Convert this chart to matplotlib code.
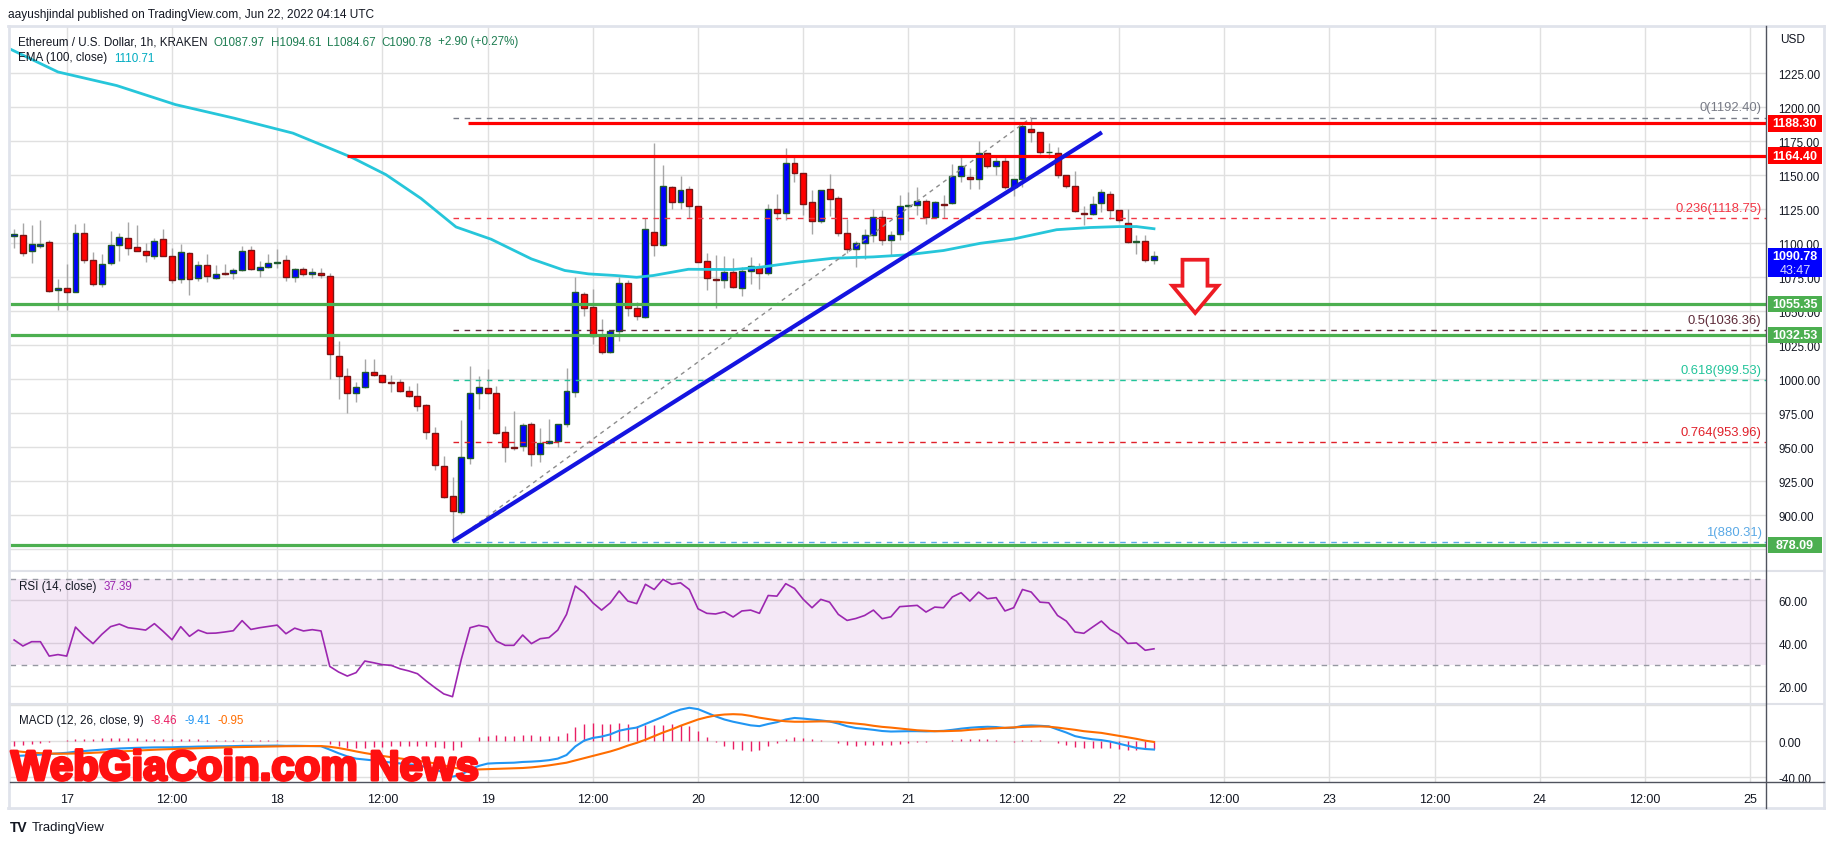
import numpy as np
import pandas as pd
import matplotlib
matplotlib.use('Agg')
import matplotlib.pyplot as plt
import matplotlib.transforms as mtransforms
import matplotlib.patheffects as pe
from matplotlib.patches import Rectangle, Polygon
from matplotlib.lines import Line2D

plt.rcParams['font.family'] = ['Liberation Sans', 'DejaVu Sans']

# ---- data (ETH/USD 1h, Kraken) ----
times = pd.date_range('2022-06-16 18:00', periods=131, freq='h')

opens = [1105.4, 1106.1, 1094.4, 1098.0, 1101.0, 1065.7, 1067.2, 1064.2, 1107.6, 1087.8,
         1070.1, 1085.6, 1098.8, 1103.9, 1097.3, 1094.4, 1090.7, 1103.2, 1090.7, 1073.8,
         1092.9, 1074.5, 1084.1, 1074.5, 1078.2, 1078.2, 1080.4, 1095.1, 1080.4, 1082.6,
         1085.6, 1087.8, 1075.3, 1081.1, 1077.5, 1078.2, 1076.0, 1016.9, 1002.2, 989.7,
         994.2, 1005.2, 1003.0, 997.8, 997.8, 991.2, 987.5, 980.9, 960.3, 936.1,
         914.0, 902.3, 942.0, 989.7, 993.4, 989.7, 961.1, 950.3, 950.8, 966.9,
         944.9, 953.0, 954.5, 966.9, 990.5, 1062.5, 1053.0, 1031.6, 1019.9, 1035.3,
         1070.6, 1052.2, 1045.7, 1108.1, 1098.6, 1141.2, 1130.2, 1139.7, 1127.2, 1086.8,
         1073.6, 1072.8, 1078.7, 1067.0, 1079.5, 1082.4, 1078.0, 1125.0, 1122.1, 1158.8,
         1151.5, 1130.2, 1116.2, 1139.7, 1133.1, 1107.4, 1095.6, 1100.0, 1105.9, 1119.1,
         1102.2, 1106.7, 1127.2, 1128.0, 1130.9, 1119.1, 1129.0, 1129.4, 1149.3, 1148.5,
         1147.1, 1166.2, 1156.6, 1160.3, 1141.2, 1147.1, 1183.8, 1181.6, 1167.0, 1166.2,
         1150.0, 1141.9, 1122.1, 1121.4, 1129.4, 1136.0, 1124.3, 1114.7, 1100.8, 1101.5,
         1087.97]
highs = [1110.8, 1115.2, 1113.7, 1117.4, 1102.7, 1074.0, 1085.0, 1114.5, 1115.2, 1093.9,
         1092.4, 1109.3, 1107.8, 1115.9, 1113.7, 1100.5, 1103.9, 1110.8, 1096.8, 1099.8,
         1093.5, 1087.3, 1092.2, 1084.1, 1084.8, 1081.9, 1098.3, 1098.3, 1087.0, 1092.4,
         1096.0, 1091.4, 1082.0, 1082.6, 1081.9, 1081.9, 1078.2, 1028.2, 1008.4, 997.8,
         1015.0, 1015.0, 1003.5, 1003.2, 1000.3, 994.9, 997.1, 981.5, 964.8, 943.4,
         928.0, 970.1, 1010.1, 1002.7, 1007.9, 994.9, 966.0, 976.5, 967.7, 968.4,
         964.0, 970.6, 967.0, 1008.4, 1075.0, 1064.0, 1066.2, 1044.1, 1036.0, 1075.0,
         1073.3, 1056.6, 1118.4, 1174.0, 1157.4, 1142.0, 1149.3, 1141.9, 1127.5, 1092.7,
         1091.5, 1090.7, 1089.0, 1082.4, 1089.7, 1085.3, 1128.7, 1136.0, 1169.9, 1163.3,
         1152.0, 1139.0, 1139.5, 1150.8, 1134.6, 1117.7, 1101.5, 1110.3, 1125.0, 1124.3,
         1108.9, 1135.3, 1137.5, 1141.2, 1132.4, 1131.0, 1135.3, 1158.1, 1163.3, 1155.2,
         1175.0, 1166.5, 1163.3, 1164.0, 1147.5, 1189.0, 1192.4, 1182.0, 1173.5, 1170.6,
         1150.5, 1153.0, 1127.2, 1134.6, 1139.7, 1138.3, 1124.5, 1125.0, 1105.9, 1105.9,
         1094.61]
lows = [1096.6, 1090.5, 1085.6, 1096.8, 1064.0, 1050.8, 1050.8, 1064.0, 1085.3, 1068.9,
        1067.7, 1083.8, 1086.8, 1091.2, 1094.0, 1086.0, 1088.5, 1090.5, 1070.6, 1070.6,
        1061.8, 1072.1, 1071.3, 1073.5, 1076.5, 1073.5, 1079.5, 1080.5, 1075.0, 1081.9,
        1081.9, 1072.1, 1071.3, 1076.0, 1074.3, 1074.3, 1000.5, 985.8, 975.5, 983.6,
        993.5, 1002.7, 997.0, 991.0, 991.0, 987.0, 976.3, 956.4, 933.6, 913.0,
        880.3, 900.8, 937.6, 978.5, 989.0, 960.0, 939.0, 947.8, 947.1, 936.1,
        939.0, 952.5, 950.0, 964.8, 986.8, 1046.3, 1025.8, 1018.4, 1019.0, 1028.0,
        1046.3, 1043.4, 1045.0, 1090.5, 1097.8, 1125.0, 1125.0, 1118.4, 1086.0, 1065.3,
        1052.3, 1067.0, 1067.0, 1061.1, 1069.9, 1066.2, 1077.0, 1116.9, 1116.9, 1144.9,
        1120.6, 1106.7, 1115.0, 1119.9, 1105.2, 1092.7, 1082.4, 1088.3, 1100.8, 1098.6,
        1090.5, 1102.2, 1108.9, 1120.6, 1114.0, 1118.4, 1118.4, 1129.0, 1144.9, 1139.7,
        1139.7, 1155.2, 1150.0, 1139.7, 1134.6, 1141.2, 1174.3, 1165.5, 1162.5, 1147.8,
        1141.0, 1122.8, 1113.3, 1121.0, 1122.8, 1117.7, 1116.0, 1100.0, 1092.0, 1086.1,
        1084.67]
closes = [1106.9, 1092.9, 1099.5, 1099.5, 1065.0, 1067.2, 1064.2, 1107.6, 1087.8, 1070.1,
          1084.8, 1098.8, 1104.7, 1096.6, 1094.4, 1091.4, 1101.7, 1090.7, 1073.0, 1093.6,
          1073.8, 1084.1, 1076.0, 1077.5, 1077.5, 1080.4, 1094.4, 1081.1, 1082.6, 1085.6,
          1086.3, 1075.3, 1081.1, 1077.5, 1079.0, 1076.7, 1018.7, 1002.2, 989.7, 994.2,
          1005.2, 1003.0, 997.8, 997.6, 991.2, 987.5, 980.0, 961.1, 936.8, 913.1,
          903.0, 942.7, 989.7, 994.2, 989.7, 960.3, 950.0, 949.8, 966.2, 944.9,
          953.0, 954.5, 966.9, 991.2, 1064.0, 1052.2, 1031.6, 1019.9, 1035.3, 1070.6,
          1052.2, 1046.3, 1110.3, 1098.6, 1141.9, 1130.2, 1139.0, 1127.2, 1086.1, 1074.3,
          1072.8, 1078.7, 1067.7, 1079.5, 1083.1, 1078.0, 1125.0, 1122.1, 1158.8, 1151.5,
          1128.7, 1116.2, 1139.0, 1132.4, 1107.4, 1095.6, 1100.0, 1105.9, 1119.1, 1102.2,
          1105.9, 1127.2, 1128.0, 1130.9, 1119.1, 1130.2, 1128.5, 1149.3, 1156.6, 1147.1,
          1166.2, 1156.6, 1160.3, 1141.2, 1147.1, 1186.0, 1181.6, 1166.9, 1167.4, 1150.0,
          1141.9, 1123.6, 1121.4, 1128.7, 1137.5, 1124.3, 1116.9, 1100.8, 1101.5, 1087.5,
          1090.78]

# EMA(100) read at a few points (hours after Jun 17 00:00)
ema_hours = [-6.5, -1, 5.7, 12.4, 19.1, 25.8, 32.4, 36.4, 40.4, 44.4, 48.4, 53.0, 56.8,
             59.5, 62.6, 65.0, 66.9, 70.9, 76.0, 79.1, 83.3, 87.4, 92.0, 95.8, 100.0,
             104.2, 108.0, 112.9, 116.7, 120.0, 122.0, 124.0]
ema_values = [1243, 1226, 1216, 1202, 1192, 1181, 1163.5, 1150.5, 1133, 1112, 1103, 1088.5,
              1080, 1077.5, 1076.3, 1075, 1076.3, 1080.9, 1080.7, 1082.4, 1086.1, 1089,
              1090, 1091.5, 1094.7, 1100, 1103.2, 1110, 1111.6, 1112.3, 1112.3, 1110.7]

rsi = [41.5, 38.7, 40.7, 40.7, 34.0, 34.7, 34.0, 47.5, 43.3, 39.8,
       44.1, 47.7, 48.9, 47.2, 46.7, 46.1, 49.1, 45.5, 41.6, 47.7,
       43.2, 46.1, 44.6, 44.7, 45.2, 45.8, 50.5, 46.4, 47.2, 47.8,
       48.4, 44.4, 47.0, 45.7, 46.3, 45.7, 29.2, 26.6, 24.7, 26.3,
       31.7, 30.9, 30.0, 29.7, 28.1, 27.1, 25.8, 22.4, 19.3, 16.4,
       15.1, 32.5, 47.2, 48.3, 47.5, 41.0, 39.0, 39.0, 43.8, 39.8,
       42.1, 42.6, 46.1, 53.4, 66.6, 63.5, 58.8, 55.4, 58.8, 64.3,
       59.6, 58.4, 67.4, 65.0, 69.7, 67.4, 68.1, 65.0, 56.0, 53.9,
       53.6, 54.6, 52.2, 55.0, 55.4, 53.9, 62.2, 61.9, 67.7, 65.5,
       60.4, 56.5, 60.4, 59.1, 53.4, 50.6, 51.5, 52.9, 55.4, 51.4,
       52.3, 57.0, 57.3, 57.6, 54.5, 56.8, 56.5, 61.5, 63.5, 59.6,
       63.8, 60.7, 61.2, 55.0, 56.5, 65.0, 63.8, 59.1, 58.8, 52.9,
       50.3, 45.2, 44.6, 47.5, 50.3, 46.4, 44.1, 39.9, 40.1, 36.7,
       37.39]

macd = [-16.6, -16.2, -15.7, -15.0, -14.4, -13.7, -13.0, -11.8, -11.0, -10.2,
        -9.5, -8.8, -8.2, -7.8, -7.5, -7.2, -7.0, -6.9, -6.9, -6.5,
        -6.4, -6.1, -6.0, -5.9, -5.8, -5.6, -5.3, -5.3, -5.2, -5.1,
        -5.0, -5.3, -5.2, -5.4, -5.5, -5.7, -9.5, -13.5, -17.0, -19.5,
        -20.5, -21.5, -22.8, -23.8, -24.8, -25.8, -26.8, -28.8, -31.5, -35.0,
        -39.5, -37.5, -31.5, -27.5, -25.0, -24.5, -24.3, -24.0, -23.2, -22.8,
        -22.2, -21.2, -19.5, -15.5, -6.0, 0.5, 3.5, 5.0, 7.5, 11.5,
        13.5, 15.0, 19.0, 23.0, 27.0, 31.5, 35.0, 37.0, 35.5, 31.5,
        27.5, 24.0, 21.5, 19.5, 17.5, 16.6, 19.0, 21.0, 24.0, 25.7,
        25.0, 24.0, 23.0, 21.8, 19.5, 16.5, 14.5, 13.6, 12.5, 11.2,
        10.6, 10.8, 11.0, 11.0, 10.8, 11.0, 11.4, 12.5, 13.8, 14.8,
        15.5, 15.9, 15.6, 14.6, 14.8, 17.0, 17.4, 17.0, 16.4, 13.0,
        9.5, 5.5, 3.5, 2.0, 1.1, -0.5, -2.8, -5.2, -7.6, -8.8,
        -9.41]
signal = [-11.0, -12.0, -12.8, -13.4, -13.8, -14.0, -14.0, -13.8, -13.5, -13.0,
          -12.5, -12.0, -11.5, -11.0, -10.5, -10.0, -9.6, -9.2, -8.9, -8.5,
          -8.2, -7.9, -7.6, -7.3, -7.0, -6.8, -6.6, -6.4, -6.2, -6.0,
          -5.8, -5.7, -5.6, -5.5, -5.5, -5.5, -6.3, -7.7, -9.5, -11.5,
          -13.3, -14.9, -16.5, -17.9, -19.3, -20.6, -21.8, -23.2, -24.8, -26.8,
          -29.3, -31.0, -31.5, -31.5, -31.2, -30.8, -30.5, -30.2, -29.9, -29.2,
          -28.2, -27.0, -25.5, -24.0, -21.5, -19.0, -16.5, -14.0, -11.5, -8.5,
          -5.0, -2.0, 1.5, 5.5, 9.5, 13.0, 17.0, 20.5, 24.0, 26.5,
          28.5, 29.5, 29.9, 29.5, 28.0, 26.0, 24.5, 23.0, 22.0, 21.5,
          21.5, 21.7, 21.9, 21.8, 21.5, 20.4, 19.5, 18.5, 17.0, 15.8,
          15.0, 14.0, 13.0, 12.0, 11.5, 11.0, 11.0, 11.3, 11.6, 12.5,
          13.2, 13.8, 14.3, 14.8, 15.3, 15.7, 16.0, 16.3, 16.0, 15.0,
          13.8, 12.5, 11.0, 10.0, 9.1, 7.5, 6.0, 4.2, 2.5, 0.5,
          -0.95]

# drawings on the chart
fib_labels = ['0', '0.236', '0.5', '0.618', '0.764', '1']
fib_prices = [1192.40, 1118.75, 1036.36, 999.53, 953.96, 880.31]
fib_colors = ['#787b86', '#f23645', '#5d2a38', '#22c49a', '#e0202a', '#5aa9e6']
support_levels = [1055.35, 1032.53, 878.09]
resistance_levels = [1188.30, 1164.40]
resistance_start = [45.8, 32.0]
trend_hours = [44, 118.06]
trend_prices = [880.7, 1181.6]
fib_trend_hours = [44, 110]
fib_trend_prices = [880.31, 1192.40]
arrow_hours = [127.25, 130.1, 130.1, 131.3, 128.7, 126.1, 127.25]
arrow_prices = [1087.9, 1087.9, 1068.8, 1068.8, 1048.75, 1068.8, 1068.8]

hours = ((times - pd.Timestamp('2022-06-17')) / pd.Timedelta('1h')).values
o = np.array(opens); h = np.array(highs); l = np.array(lows); c = np.array(closes)
hist = np.array(macd) - np.array(signal)

W, H = 1834, 845
X0, X1 = -6.47, 193.8


def box(x0, y0, x1, y1):
    return [x0 / W, 1 - y1 / H, (x1 - x0) / W, (y1 - y0) / H]


fig = plt.figure(figsize=(W / 100, H / 100), dpi=100)
fig.patch.set_facecolor('white')

ax_p = fig.add_axes(box(10, 27, 1766, 572))
ax_r = fig.add_axes(box(10, 572, 1766, 705))
ax_m = fig.add_axes(box(10, 705, 1766, 782.5))

xt = np.arange(0, 193, 12)
xt_labels = [str(17 + t // 24) if t % 24 == 0 else '12:00' for t in xt]
grid_c = '#e0e0e0'
for ax in (ax_p, ax_r, ax_m):
    ax.set_xlim(X0, X1)
    ax.set_xticks(xt)
    for s in ax.spines.values():
        s.set_visible(False)
    ax.yaxis.tick_right()
    ax.tick_params(axis='y', length=0, pad=9, labelsize=8.4, labelcolor='#131722')
    ax.tick_params(axis='x', length=0)
    ax.grid(True, color=grid_c, lw=1)
    ax.set_axisbelow(True)
ax_p.tick_params(axis='x', labelbottom=False)
ax_r.tick_params(axis='x', labelbottom=False)
ax_m.set_xticklabels(xt_labels)
ax_m.tick_params(axis='x', pad=8, labelsize=9, labelcolor='#131722')

# ---- price panel ----
ax_p.set_ylim(859.0, 1259.8)
pt = np.arange(875, 1226, 25)
ax_p.set_yticks(pt)
# the 875 label sits under the 878.09 tag
ax_p.set_yticklabels(['' if v == 875 else f'{v:.2f}' for v in pt])

ax_p.vlines(hours, l, h, color='#a6a6a6', lw=1, zorder=2)
up = c >= o
ax_p.bar(hours, np.maximum(np.abs(c - o), 0.4), bottom=np.minimum(o, c), width=0.68,
         color=np.where(up, '#0000ff', '#ff0000'),
         edgecolor=np.where(up, '#1f5b2e', '#7a1515'), linewidth=1, zorder=3)

ax_p.plot(ema_hours, ema_values, color='#26c6da', lw=2, zorder=4)

for lvl, x_start in zip(resistance_levels, resistance_start):
    ax_p.hlines(lvl, x_start, X1, color='#ff0000', lw=2.3, zorder=5)
ax_p.hlines(support_levels, X0, X1, color='#4caf50', lw=2.3, zorder=5)

for lab, p, col in zip(fib_labels, fib_prices, fib_colors):
    ax_p.hlines(p, 44, X1, color=col, lw=1, linestyles=(0, (4, 4)), zorder=4)
    ax_p.annotate(f'{lab}({p:.2f})', xy=(193.3, p), xytext=(0, 3), textcoords='offset points',
                  ha='right', va='bottom', color=col, fontsize=9.4, zorder=6)

ax_p.plot(fib_trend_hours, fib_trend_prices, color='#8c8c8c', lw=1, ls=(0, (3, 3)), zorder=4)
ax_p.plot(trend_hours, trend_prices, color='#1414e0', lw=3, zorder=6, solid_capstyle='butt')
ax_p.add_patch(Polygon(list(zip(arrow_hours, arrow_prices)), closed=True, fc='white',
                       ec='#ed1c24', lw=2.7, joinstyle='miter', zorder=6))

# price scale tags
bt = mtransforms.blended_transform_factory(ax_p.transAxes, ax_p.transData)
bx0, bw = (1768 - 10) / 1756, (1822 - 1768) / 1756


def tag(price, text, color, lo=None, hi=None):
    lo = price - 6.1 if lo is None else lo
    hi = price + 6.1 if hi is None else hi
    ax_p.add_patch(Rectangle((bx0, lo), bw, hi - lo, transform=bt, fc=color, ec='none',
                             clip_on=False, zorder=8))
    ax_p.text(bx0 + bw / 2, price, text, transform=bt, ha='center', va='center',
              color='white', fontsize=9, fontweight='bold', clip_on=False, zorder=9)


for lvl in resistance_levels:
    tag(lvl, f'{lvl:.2f}', '#ff0000')
for lvl in support_levels:
    tag(lvl, f'{lvl:.2f}', '#4caf50')
tag(closes[-1], f'{closes[-1]:.2f}', '#0000ff', lo=1074.9, hi=1096.8)
ax_p.text(bx0 + bw / 2, 1080.6, '43:47', transform=bt, ha='center', va='center',
          color='#dcdcff', fontsize=9, clip_on=False, zorder=9)

# ---- RSI panel ----
ax_r.set_ylim(11.7, 73.6)
ax_r.set_yticks([20, 40, 60])
ax_r.set_yticklabels(['20.00', '40.00', '60.00'])
ax_r.axhspan(30, 70, color='#9c27b0', alpha=0.1, lw=0)
ax_r.hlines([30, 70], X0, X1, color='#9598a1', lw=1, linestyles=(0, (4, 4)))
ax_r.plot(hours, rsi, color='#9c27b0', lw=1.2, zorder=4)

# ---- MACD panel ----
ax_m.set_ylim(-44.9, 41.2)
ax_m.set_yticks([-40, 0])
ax_m.set_yticklabels(['-40.00', '0.00'])
ax_m.axhline(40, color=grid_c, lw=1, zorder=0)
ax_m.vlines(hours, 0, hist, color='#e91e63', lw=1, zorder=3)
ax_m.plot(hours, macd, color='#2196f3', lw=1.5, zorder=4)
ax_m.plot(hours, signal, color='#ff6d00', lw=1.5, zorder=4)


# ---- frame ----
def fline(x0, y0, x1, y1, color, lw):
    fig.add_artist(Line2D([x0 / W, x1 / W], [1 - y0 / H, 1 - y1 / H], color=color, lw=lw,
                          transform=fig.transFigure))


fline(8, 27, 1824, 27, '#e0e3eb', 2)
fline(8, 809, 1824, 809, '#e0e3eb', 2)
fline(9, 27, 9, 809, '#e0e3eb', 2)
fline(1824, 27, 1824, 809, '#e0e3eb', 2)
fline(10, 572, 1824, 572, '#dfe1e8', 1.5)
fline(10, 705, 1824, 705, '#dfe1e8', 1.5)
fline(1766, 27, 1766, 809, '#50535e', 1)
fline(10, 782.5, 1824, 782.5, '#50535e', 1)


# ---- texts ----
def ftext(x, y, s, **kw):
    kw.setdefault('fontsize', 8.6)
    kw.setdefault('color', '#131722')
    return fig.text(x / W, 1 - y / H, s, va='center', **kw)


renderer = fig.canvas.get_renderer()


def chain(parts, x, y, gap=7, **kw):
    # lay text pieces one after another on a line
    for s, col in parts:
        t = ftext(x, y, s, color=col, **kw)
        x = t.get_window_extent(renderer).x1 + gap


ftext(8, 15, 'aayushjindal published on TradingView.com, Jun 22, 2022 04:14 UTC', fontsize=8.6)
chain([('Ethereum / U.S. Dollar, 1h, KRAKEN', '#131722'),
       ('O1087.97', '#1e7d52'), ('H1094.61', '#1e7d52'), ('L1084.67', '#1e7d52'),
       ('C1090.78', '#1e7d52'), ('+2.90 (+0.27%)', '#1e7d52')], 18, 42.5, gap=6, fontsize=8.4)
chain([('EMA (100, close)', '#131722'), ('1110.71', '#00acc1')], 18, 58.5, fontsize=8.4)
ftext(1780, 40, 'USD')
chain([('RSI (14, close)', '#131722'), (f'{rsi[-1]:.2f}', '#9c27b0')], 19, 587, fontsize=8.4)
chain([('MACD (12, 26, close, 9)', '#131722'), (f'{hist[-1]:.2f}', '#e91e63'),
       (f'{macd[-1]:.2f}', '#2196f3'), (f'{signal[-1]:.2f}', '#ff6d00')], 19, 721, fontsize=8.4)
ftext(10, 828, 'TV', fontsize=10, fontweight='bold', color='#131722')
ftext(32, 828, 'TradingView', fontsize=9.5)

wm = fig.text(11 / W, 1 - 781 / H, 'WebGiaCoin.com News', fontsize=36, fontweight='bold',
              color='#ff1010', va='baseline',
              family=['Liberation Sans Narrow', 'Liberation Sans', 'DejaVu Sans'],
              path_effects=[pe.withStroke(linewidth=2.2, foreground='#ff1010')])
wm.set_fontsize(36 * 468 / wm.get_window_extent(renderer).width)

fig.savefig('out.png', dpi=100)
